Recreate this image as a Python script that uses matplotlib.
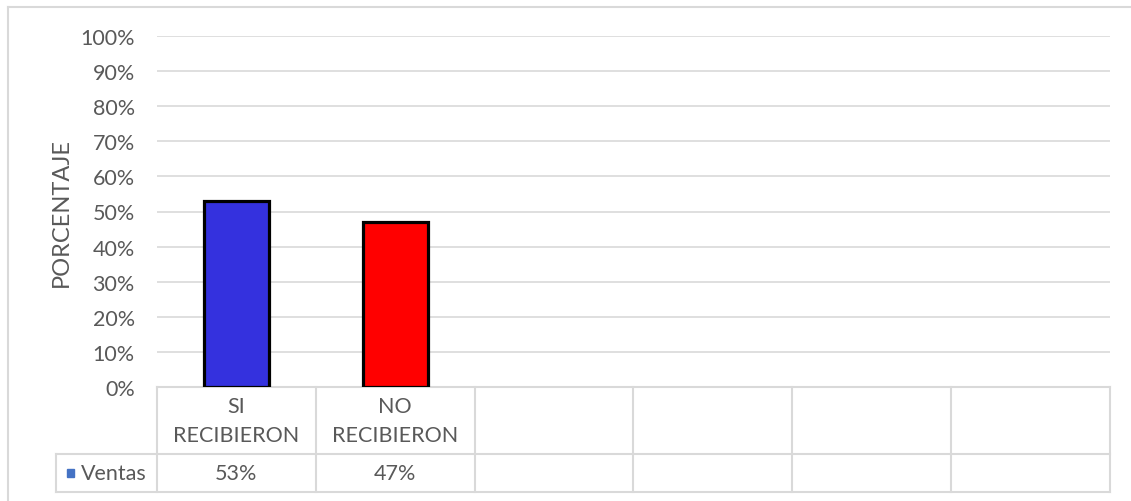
import matplotlib
matplotlib.use("Agg")
import matplotlib.pyplot as plt
from matplotlib.lines import Line2D
from matplotlib.patches import Rectangle

# Data
categories = ["SI\nRECIBIERON", "NO\nRECIBIERON", "", "", "", ""]
values = [53, 47]
value_labels = ["53%", "47%"]
bar_colors = ["#3431DE", "#FF0000"]
series_name = "Ventas"
yticks = list(range(0, 101, 10))

W, H = 1131, 502
fig = plt.figure(figsize=(W / 100, H / 100), dpi=100)
plt.rcParams["font.family"] = ["Lato", "DejaVu Sans"]

text_color = "#595959"
grid_color = "#d9d9d9"
fs = 15.5

# Plot area in pixels
left_px, right_px, top_px, bottom_px = 157, 1110, 37, 388
ax = fig.add_axes([left_px / W, 1 - bottom_px / H,
                   (right_px - left_px) / W, (bottom_px - top_px) / H])

n = len(categories)
ax.set_xlim(-0.5, n - 0.5)
ax.set_ylim(0, 100)
ax.bar(range(len(values)), values, width=0.41, color=bar_colors,
       edgecolor="black", linewidth=2.3, zorder=3)

ax.set_yticks(yticks)
ax.set_yticklabels([f"{t}%" for t in yticks], color=text_color, fontsize=fs)
ax.tick_params(axis="y", length=0, pad=16)
ax.set_xticks([])
ax.grid(axis="y", color=grid_color, linewidth=1.2, zorder=0)
for s in ax.spines.values():
    s.set_visible(False)
ax.set_ylabel("PORCENTAJE", color=text_color, fontsize=17, labelpad=6)

# Data table below the plot area (axes coordinates for y)
ph = bottom_px - top_px
row1 = (bottom_px - 455) / ph
row2 = (bottom_px - 493) / ph
xform = ax.get_xaxis_transform()
line_kw = dict(color=grid_color, linewidth=1.5, clip_on=False, transform=xform)

# horizontal lines
legend_left = -0.5 - (left_px - 56) / (right_px - left_px) * n
ax.add_line(Line2D([-0.5, n - 0.5], [0, 0], **line_kw))
ax.add_line(Line2D([legend_left, n - 0.5], [row1, row1], **line_kw))
ax.add_line(Line2D([legend_left, n - 0.5], [row2, row2], **line_kw))
# vertical lines
for i in range(n + 1):
    ax.add_line(Line2D([i - 0.5, i - 0.5], [0, row2], **line_kw))
ax.add_line(Line2D([legend_left, legend_left], [row1, row2], **line_kw))

for i, cat in enumerate(categories):
    if cat:
        ax.text(i, row1 / 2, cat, transform=xform, ha="center", va="center",
                color=text_color, fontsize=fs, linespacing=1.6)
for i, lab in enumerate(value_labels):
    ax.text(i, (row1 + row2) / 2, lab, transform=xform, ha="center",
            va="center", color=text_color, fontsize=fs)

# legend key in the table
ax.add_patch(Rectangle((legend_left + 0.07, (row1 + row2) / 2 - 0.011),
                       0.045, 0.022, transform=xform, color="#4472C4",
                       clip_on=False))
ax.text(legend_left + 0.16, (row1 + row2) / 2, series_name, transform=xform,
        ha="left", va="center", color=text_color, fontsize=fs)

# chart border
fig.add_artist(Line2D([8 / W, 1.0], [1 - 8 / H, 1 - 8 / H], color=grid_color,
                      linewidth=1.5, transform=fig.transFigure))
fig.add_artist(Line2D([8 / W, 8 / W], [0, 1 - 8 / H], color=grid_color,
                      linewidth=1.5, transform=fig.transFigure))

fig.savefig("out.png", dpi=100, facecolor="white")
